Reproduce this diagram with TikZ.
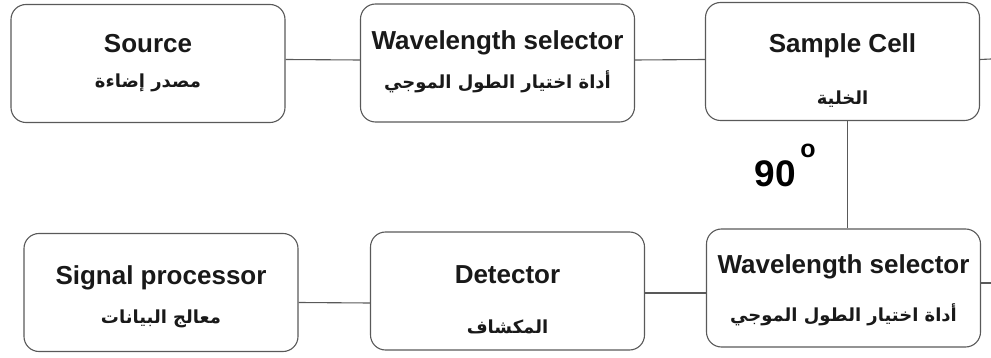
\documentclass[tikz,border=0pt]{standalone}
\usepackage{fontspec}
\setmainfont{Liberation Sans}
\newfontfamily\arabicfont[Script=Arabic]{DejaVu Sans}
\TeXXeTstate=1
\usetikzlibrary{positioning}

\tikzset{box/.style = {draw=black!65, line width=1.1pt, rounded corners=15pt,
                       minimum width=274pt, minimum height=118pt, inner sep=0pt},
         en/.style  = {font=\fontsize{26}{29}\selectfont\bfseries, text=black!90},
         ar/.style  = {font=\arabicfont\fontsize{18}{22}\selectfont\bfseries, text=black!90},
         link/.style = {draw=black!65, line width=1.1pt}}

\begin{document}
\begin{tikzpicture}%
            [x=1pt, y=-1pt]
            \useasboundingbox (0,0) rectangle (991,358);
            % top row
            \node [box] (src)  at (148,63.5) {};
            \node [box] (wsa)  at (497.5,63) {};
            \node [box] (cell) at (842.5,61.5) {};
            % bottom row
            \node [box] (wsb)  at (843.5,288) {};
            \node [box] (det)  at (507.5,291) {};
            \node [box] (sig)  at (161,292.5) {};
            
            \node [en] (srcEn)  at ([yshift=20pt]src.center) {Source};
            \node [ar] (srcAr)  at ([yshift=-19pt]src.center) {\beginR مصدر إضاءة\endR};
            \node [en] (wsaEn)  at ([yshift=20pt]wsa.center) {Wavelength selector};
            \node [ar] (wsaAr)  at ([yshift=-19pt]wsa.center) {\beginR أداة اختيار الطول الموجي\endR};
            \node [en] (cellEn) at ([yshift=16pt]cell.center) {Sample Cell};
            \node [ar] (cellAr) at ([yshift=-38pt]cell.center) {\beginR الخلية\endR};
            \node [en] (wsbEn)  at ([yshift=21pt]wsb.center) {Wavelength selector};
            \node [ar] (wsbAr)  at ([yshift=-27pt]wsb.center) {\beginR أداة اختيار الطول الموجي\endR};
            \node [en] (detEn)  at ([yshift=16pt]det.center) {Detector};
            \node [ar] (detAr)  at ([yshift=-36pt]det.center) {\beginR المكشاف\endR};
            \node [en] (sigEn)  at ([yshift=15pt]sig.center) {Signal processor};
            \node [ar] (sigAr)  at ([yshift=-26pt]sig.center) {\beginR معالج البيانات\endR};
            
            \node [font=\fontsize{37}{40}\selectfont\bfseries] (ang) at (775,174) {90};
            \node [font=\fontsize{25}{27}\selectfont\bfseries] (deg) at (808,151) {o};
            
            % connectors
            \draw [link] ([yshift=4pt]src.east) -- ([yshift=3pt]wsa.west);
            \draw [link] ([yshift=3pt]wsa.east) -- ([yshift=2pt]cell.west);
            \draw [link] ([xshift=5pt]cell.south) -- ([xshift=4pt]wsb.north);
            \draw [link] ([yshift=-5pt]wsb.west) -- ([yshift=-2pt]det.east);
            \draw [link] ([yshift=-12pt]det.west) -- ([yshift=-10pt]sig.east);
            
            \coordinate (edgeA) at (991,59);
            \coordinate (edgeB) at (991,283);
            \draw [link] ([yshift=2pt]cell.east) -- (edgeA);
            \draw [link] ([yshift=5pt]wsb.east) -- (edgeB);
            
        \end{tikzpicture}
\end{document}
